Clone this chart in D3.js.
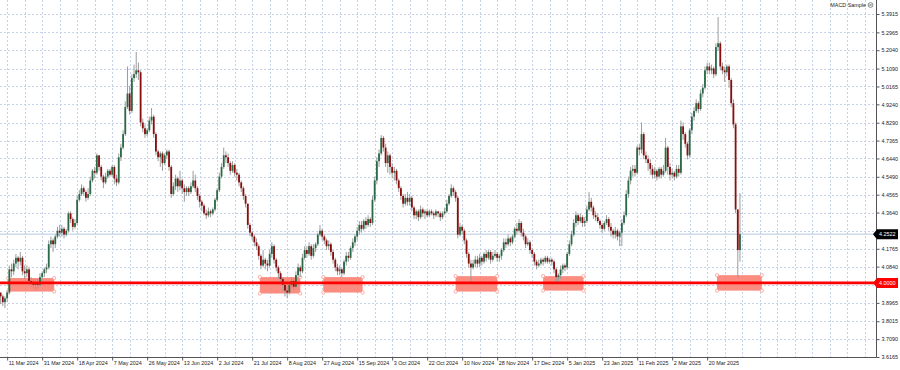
<!DOCTYPE html>
<html>
<head>
<meta charset="utf-8">
<script src="https://cdn.jsdelivr.net/npm/d3@7/dist/d3.min.js"></script>
<style>
  body { margin: 0; background: #fff; }
  svg text { font-family: "Liberation Sans", Arial, sans-serif; }
</style>
</head>
<body>
<svg id="chart" width="900" height="370"></svg>
<script>
// date labels, one every 16 bars starting at bar 3
var dateLabels = ["11 Mar 2024", "31 Mar 2024", "18 Apr 2024", "7 May 2024", "26 May 2024",
  "13 Jun 2024", "2 Jul 2024", "21 Jul 2024", "8 Aug 2024", "27 Aug 2024", "15 Sep 2024",
  "3 Oct 2024", "22 Oct 2024", "10 Nov 2024", "28 Nov 2024", "17 Dec 2024", "5 Jan 2025",
  "23 Jan 2025", "11 Feb 2025", "2 Mar 2025", "20 Mar 2025"];

// grid levels; the two covered by the price tags get no label
var priceTicks = ["5.3915", "5.2965", "5.2040", "5.1090", "5.0165", "4.9240", "4.8290", "4.7365",
  "4.6440", "4.5490", "4.4565", "4.3640", "4.2690", "4.1765", "4.0840", "3.9915", "3.8965",
  "3.8015", "3.7090", "3.6165"];
var hiddenTicks = ["4.2690", "3.9915"];

var firstOpen = 3.95;
var closes = [
  3.93,3.90,3.92,3.95,4.07,4.06,4.10,4.13,4.11,4.13,
  4.06,4.05,4.07,4.01,4.00,3.99,4.00,3.99,4.03,4.05,
  4.07,4.08,4.20,4.22,4.20,4.24,4.27,4.26,4.28,4.25,
  4.27,4.36,4.33,4.29,4.31,4.43,4.46,4.49,4.47,4.44,
  4.46,4.53,4.58,4.57,4.66,4.60,4.55,4.52,4.55,4.58,
  4.56,4.60,4.54,4.52,4.65,4.70,4.77,4.91,4.98,4.89,
  5.06,5.08,5.10,5.09,4.83,4.80,4.77,4.79,4.84,4.86,
  4.77,4.68,4.65,4.67,4.62,4.66,4.68,4.60,4.46,4.50,
  4.54,4.50,4.53,4.49,4.47,4.49,4.47,4.50,4.53,4.49,
  4.45,4.42,4.40,4.36,4.35,4.37,4.36,4.38,4.43,4.48,
  4.55,4.60,4.66,4.65,4.62,4.58,4.61,4.57,4.56,4.52,
  4.49,4.45,4.41,4.30,4.26,4.24,4.21,4.19,4.14,4.09,
  4.12,4.10,4.09,4.15,4.19,4.12,4.08,4.05,4.02,3.99,
  3.96,3.95,3.99,4.01,3.98,4.04,4.08,4.06,4.13,4.17,
  4.15,4.19,4.14,4.18,4.20,4.25,4.27,4.24,4.22,4.19,
  4.20,4.16,4.12,4.08,4.06,4.07,4.05,4.11,4.14,4.13,
  4.18,4.21,4.24,4.27,4.30,4.28,4.32,4.30,4.33,4.31,
  4.43,4.53,4.63,4.67,4.75,4.70,4.62,4.66,4.60,4.57,
  4.58,4.53,4.49,4.45,4.41,4.44,4.42,4.44,4.39,4.35,
  4.37,4.34,4.38,4.36,4.37,4.35,4.37,4.36,4.35,4.37,
  4.36,4.34,4.36,4.37,4.41,4.45,4.49,4.47,4.44,4.25,
  4.29,4.27,4.22,4.15,4.10,4.08,4.10,4.12,4.10,4.13,
  4.11,4.15,4.13,4.16,4.12,4.14,4.15,4.13,4.14,4.17,
  4.21,4.20,4.23,4.21,4.24,4.28,4.27,4.31,4.26,4.24,
  4.20,4.21,4.17,4.15,4.11,4.09,4.10,4.12,4.11,4.13,
  4.11,4.12,4.11,4.07,4.03,4.04,4.07,4.09,4.08,4.15,
  4.20,4.25,4.31,4.35,4.32,4.34,4.31,4.32,4.38,4.42,
  4.39,4.35,4.34,4.32,4.30,4.28,4.31,4.33,4.29,4.27,
  4.25,4.27,4.24,4.26,4.31,4.35,4.46,4.53,4.58,4.59,
  4.57,4.70,4.69,4.77,4.66,4.64,4.62,4.59,4.56,4.58,
  4.55,4.59,4.56,4.58,4.70,4.60,4.56,4.57,4.55,4.59,
  4.57,4.81,4.77,4.72,4.66,4.79,4.86,4.89,4.93,4.90,
  4.98,5.01,5.10,5.12,5.10,5.11,5.08,5.22,5.24,5.12,
  5.10,5.09,5.12,5.05,4.93,4.82,4.38,4.17,4.2522
];
var highs = [
  3.95,3.94,3.93,3.96,4.09,4.10,4.12,4.15,4.14,4.16,
  4.14,4.09,4.09,4.08,4.03,4.02,4.02,4.02,4.05,4.06,
  4.08,4.10,4.22,4.24,4.23,4.25,4.29,4.30,4.30,4.29,
  4.28,4.37,4.37,4.34,4.33,4.45,4.48,4.51,4.50,4.48,
  4.49,4.55,4.59,4.60,4.67,4.66,4.61,4.56,4.57,4.59,
  4.59,4.61,4.61,4.56,4.67,4.72,4.79,4.94,5.12,5.02,
  5.08,5.13,5.195,5.14,5.10,4.85,4.82,4.80,4.86,4.905,
  4.87,4.78,4.69,4.68,4.68,4.67,4.69,4.69,4.61,4.52,
  4.56,4.55,4.58,4.54,4.51,4.50,4.50,4.52,4.58,4.56,
  4.50,4.46,4.43,4.41,4.38,4.39,4.38,4.39,4.44,4.49,
  4.57,4.62,4.70,4.68,4.67,4.63,4.63,4.62,4.59,4.57,
  4.53,4.50,4.46,4.41,4.31,4.27,4.25,4.23,4.20,4.15,
  4.17,4.13,4.12,4.17,4.21,4.20,4.13,4.09,4.06,4.03,
  4.01,3.98,4.00,4.03,4.02,4.06,4.10,4.09,4.15,4.19,
  4.19,4.21,4.20,4.20,4.21,4.26,4.30,4.28,4.25,4.23,
  4.22,4.21,4.17,4.13,4.10,4.09,4.08,4.12,4.16,4.16,
  4.19,4.23,4.25,4.29,4.32,4.32,4.33,4.34,4.35,4.34,
  4.45,4.55,4.65,4.69,4.765,4.76,4.72,4.68,4.67,4.62,
  4.60,4.59,4.54,4.50,4.46,4.46,4.47,4.46,4.45,4.40,
  4.38,4.38,4.40,4.39,4.38,4.38,4.38,4.38,4.37,4.38,
  4.37,4.37,4.37,4.39,4.43,4.46,4.51,4.50,4.48,4.45,
  4.31,4.30,4.28,4.23,4.16,4.12,4.12,4.14,4.14,4.15,
  4.14,4.16,4.17,4.17,4.17,4.16,4.17,4.16,4.15,4.18,
  4.23,4.23,4.25,4.24,4.25,4.29,4.31,4.33,4.32,4.28,
  4.25,4.23,4.22,4.18,4.16,4.12,4.12,4.13,4.13,4.14,
  4.14,4.13,4.13,4.12,4.08,4.05,4.09,4.10,4.10,4.16,
  4.22,4.27,4.33,4.37,4.36,4.36,4.35,4.34,4.40,4.47,
  4.44,4.40,4.37,4.36,4.33,4.31,4.32,4.35,4.34,4.31,
  4.28,4.29,4.28,4.27,4.33,4.37,4.48,4.55,4.60,4.61,
  4.61,4.71,4.72,4.83,4.78,4.68,4.66,4.64,4.61,4.60,
  4.59,4.60,4.60,4.61,4.75,4.71,4.62,4.59,4.58,4.61,
  4.61,4.84,4.83,4.78,4.73,4.80,4.88,4.91,4.95,4.94,
  5.00,5.03,5.12,5.14,5.14,5.13,5.12,5.24,5.376,5.25,
  5.14,5.12,5.13,5.13,5.06,4.95,4.83,4.38,4.465
];
var lows = [
  3.89,3.88,3.87,3.90,3.94,4.03,4.04,4.08,4.07,4.09,
  4.04,4.02,4.03,3.99,3.98,3.97,3.96,3.97,3.98,4.01,
  4.03,4.05,4.07,4.18,4.16,4.18,4.23,4.24,4.24,4.23,
  4.24,4.26,4.31,4.27,4.28,4.30,4.42,4.45,4.45,4.42,
  4.43,4.45,4.52,4.54,4.56,4.58,4.53,4.49,4.51,4.54,
  4.55,4.55,4.51,4.50,4.51,4.63,4.69,4.76,4.90,4.87,
  4.88,5.04,5.06,5.05,4.81,4.78,4.75,4.76,4.78,4.82,
  4.75,4.66,4.63,4.60,4.58,4.61,4.64,4.58,4.44,4.45,
  4.48,4.47,4.48,4.46,4.42,4.45,4.45,4.46,4.49,4.47,
  4.43,4.39,4.37,4.35,4.33,4.34,4.34,4.35,4.37,4.42,
  4.47,4.54,4.59,4.62,4.60,4.56,4.57,4.55,4.53,4.50,
  4.47,4.43,4.39,4.28,4.24,4.22,4.19,4.17,4.12,4.07,
  4.08,4.07,4.06,4.08,4.13,4.10,4.06,4.02,4.00,3.96,
  3.93,3.92,3.94,3.97,3.96,3.97,4.03,4.03,4.05,4.12,
  4.13,4.14,4.12,4.13,4.16,4.19,4.24,4.22,4.20,4.17,
  4.17,4.14,4.10,4.06,4.04,4.04,4.03,4.04,4.09,4.11,
  4.12,4.16,4.19,4.22,4.25,4.26,4.27,4.28,4.29,4.29,
  4.30,4.42,4.51,4.60,4.66,4.68,4.60,4.57,4.56,4.54,
  4.53,4.51,4.47,4.43,4.39,4.40,4.40,4.40,4.37,4.33,
  4.33,4.32,4.33,4.34,4.33,4.34,4.34,4.35,4.33,4.34,
  4.34,4.32,4.33,4.35,4.36,4.40,4.44,4.45,4.42,4.23,
  4.24,4.25,4.20,4.13,4.08,4.00,4.07,4.08,4.08,4.08,
  4.09,4.10,4.11,4.12,4.10,4.11,4.13,4.11,4.11,4.12,
  4.16,4.18,4.19,4.19,4.20,4.23,4.25,4.26,4.24,4.22,
  4.18,4.19,4.15,4.13,4.09,4.07,4.08,4.09,4.09,4.10,
  4.10,4.10,4.09,4.05,4.00,4.00,4.02,4.05,4.06,4.07,
  4.14,4.19,4.24,4.29,4.30,4.31,4.29,4.29,4.31,4.37,
  4.37,4.33,4.32,4.31,4.28,4.26,4.27,4.30,4.27,4.24,
  4.23,4.23,4.22,4.19,4.19,4.30,4.34,4.44,4.51,4.55,
  4.55,4.56,4.66,4.67,4.64,4.62,4.58,4.56,4.54,4.54,
  4.53,4.54,4.54,4.55,4.57,4.56,4.53,4.54,4.53,4.54,
  4.55,4.56,4.74,4.70,4.64,4.65,4.77,4.84,4.88,4.88,
  4.89,4.96,5.00,5.08,5.08,5.08,5.06,5.07,5.20,5.10,
  5.08,5.04,5.07,5.01,4.91,4.80,4.36,4.025,4.11
];

// support zones: bar range and price range
var zoneStart = [3.5, 118.5, 147.5, 208, 248, 327.5];
var zoneEnd = [24.5, 137, 165.5, 227, 266.5, 348];
var zoneTop = [4.025, 4.03, 4.03, 4.035, 4.035, 4.04];
var zoneBottom = [3.955, 3.945, 3.95, 3.955, 3.96, 3.96];

var supportLevel = 4.0;
var lastPrice = 4.2522;

var svg = d3.select("#chart");
var plotRight = 876, plotBottom = 357;
var barStep = 35 / 16;

var x = d3.scaleLinear()
  .domain([0, 1])
  .range([0.6, 0.6 + barStep]);

var y = d3.scaleLinear()
  .domain([3.6165, 5.3915])
  .range([357, 14]);

// grid
var grid = svg.append("g").attr("class", "grid");
grid.selectAll("line.h")
  .data(priceTicks)
  .enter().append("line")
  .attr("class", "h")
  .attr("x1", 0).attr("x2", plotRight)
  .attr("y1", function (d) { return Math.round(y(+d)) + 0.5; })
  .attr("y2", function (d) { return Math.round(y(+d)) + 0.5; })
  .attr("stroke", "#c5d2e8").attr("stroke-dasharray", "2,2");

grid.selectAll("line.v")
  .data(d3.range(-5, 402, 8))
  .enter().append("line")
  .attr("class", "v")
  .attr("y1", 0).attr("y2", plotBottom)
  .attr("x1", function (d) { return Math.round(x(d)) + 0.5; })
  .attr("x2", function (d) { return Math.round(x(d)) + 0.5; })
  .attr("stroke", "#c5d2e8").attr("stroke-dasharray", "2,2");

// zones (behind the candles)
var zones = svg.append("g").attr("class", "zones");
zoneStart.forEach(function (s, k) {
  var x0 = x(s), x1 = x(zoneEnd[k]), y0 = y(zoneTop[k]), y1 = y(zoneBottom[k]);
  zones.append("rect")
    .attr("x", x0).attr("y", y0)
    .attr("width", x1 - x0).attr("height", y1 - y0)
    .attr("fill", "#fa7f72").attr("fill-opacity", 0.9);
  [[x0, y0], [x1, y0], [x0, y1], [x1, y1]].forEach(function (p) {
    zones.append("circle")
      .attr("cx", p[0]).attr("cy", p[1]).attr("r", 1.6)
      .attr("fill", "#fff").attr("stroke", "#f59a92").attr("stroke-width", 0.8);
  });
});

// last price line
svg.append("line")
  .attr("x1", 0).attr("x2", plotRight)
  .attr("y1", y(lastPrice)).attr("y2", y(lastPrice))
  .attr("stroke", "#b4c8e0").attr("stroke-width", 1);

// candles
var bars = closes.map(function (c, i) {
  return { i: i, open: i === 0 ? firstOpen : closes[i - 1], close: c, high: highs[i], low: lows[i] };
});

var candles = svg.append("g").attr("class", "candles");
candles.selectAll("line")
  .data(bars)
  .enter().append("line")
  .attr("x1", function (d) { return x(d.i); })
  .attr("x2", function (d) { return x(d.i); })
  .attr("y1", function (d) { return y(d.high); })
  .attr("y2", function (d) { return y(d.low); })
  .attr("stroke", "#9c9c9c").attr("stroke-width", 1);

candles.selectAll("rect")
  .data(bars)
  .enter().append("rect")
  .attr("x", function (d) { return x(d.i) - 0.9; })
  .attr("width", 1.8)
  .attr("y", function (d) { return y(Math.max(d.open, d.close)); })
  .attr("height", function (d) { return Math.max(0.8, Math.abs(y(d.open) - y(d.close))); })
  .attr("fill", function (d) { return d.close >= d.open ? "#2a6a48" : "#8a0c0c"; });

// support line
svg.append("line")
  .attr("x1", 0).attr("x2", plotRight)
  .attr("y1", y(supportLevel)).attr("y2", y(supportLevel))
  .attr("stroke", "#ff0000").attr("stroke-width", 2.6);

// axes frame
svg.append("line")
  .attr("x1", plotRight + 0.5).attr("x2", plotRight + 0.5)
  .attr("y1", 0).attr("y2", plotBottom + 0.5)
  .attr("stroke", "#555");
svg.append("line")
  .attr("x1", 0).attr("x2", plotRight + 0.5)
  .attr("y1", plotBottom + 0.5).attr("y2", plotBottom + 0.5)
  .attr("stroke", "#555");

// right price axis
var yAxis = d3.axisRight(y)
  .tickValues(priceTicks.map(Number))
  .tickFormat(function (d, k) {
    return hiddenTicks.indexOf(priceTicks[k]) >= 0 ? "" : priceTicks[k];
  })
  .tickSize(3).tickPadding(2);

var ya = svg.append("g")
  .attr("transform", "translate(" + (plotRight + 0.5) + ",0)")
  .call(yAxis);
ya.select(".domain").remove();
ya.selectAll("line").attr("stroke", "#555");
ya.selectAll("text").attr("font-size", "5.4px").attr("fill", "#222")
  .attr("font-family", "Liberation Sans, Arial, sans-serif");

// bottom date axis
var labelBars = dateLabels.map(function (d, k) { return 3 + 16 * k; });
var xAxis = d3.axisBottom(x)
  .tickValues(labelBars)
  .tickFormat(function (d, k) { return dateLabels[k]; })
  .tickSize(3).tickPadding(1);

var xa = svg.append("g")
  .attr("transform", "translate(0," + (plotBottom + 0.5) + ")")
  .call(xAxis);
xa.select(".domain").remove();
xa.selectAll("line").attr("stroke", "#555");
xa.selectAll("text")
  .attr("text-anchor", "start").attr("dx", "1")
  .attr("font-size", "5.4px").attr("fill", "#222")
  .attr("font-family", "Liberation Sans, Arial, sans-serif");

// price tags on the axis
function priceTag(value, text, bg) {
  var yy = y(value);
  var g = svg.append("g");
  g.append("path")
    .attr("d", "M" + (plotRight - 3) + "," + yy + "L" + (plotRight + 1) + "," + (yy - 5) +
      "H898V" + (yy + 5) + "H" + (plotRight + 1) + "Z")
    .attr("fill", bg);
  g.append("text")
    .attr("x", plotRight + 3).attr("y", yy + 2)
    .attr("font-size", "5.4px").attr("fill", "#fff")
    .text(text);
}
priceTag(lastPrice, "4.2522", "#000");
priceTag(supportLevel, "4.0000", "#ff0000");

// indicator name, top right
svg.append("text")
  .attr("x", 866).attr("y", 7)
  .attr("text-anchor", "end")
  .attr("font-size", "5.4px").attr("fill", "#222")
  .text("MACD Sample");
svg.append("circle")
  .attr("cx", 870.5).attr("cy", 5).attr("r", 2.4)
  .attr("fill", "none").attr("stroke", "#444").attr("stroke-width", 0.6);
svg.append("path")
  .attr("d", "M869.3,3.8L871.7,6.2M871.7,3.8L869.3,6.2")
  .attr("stroke", "#444").attr("stroke-width", 0.6);
</script>
</body>
</html>
